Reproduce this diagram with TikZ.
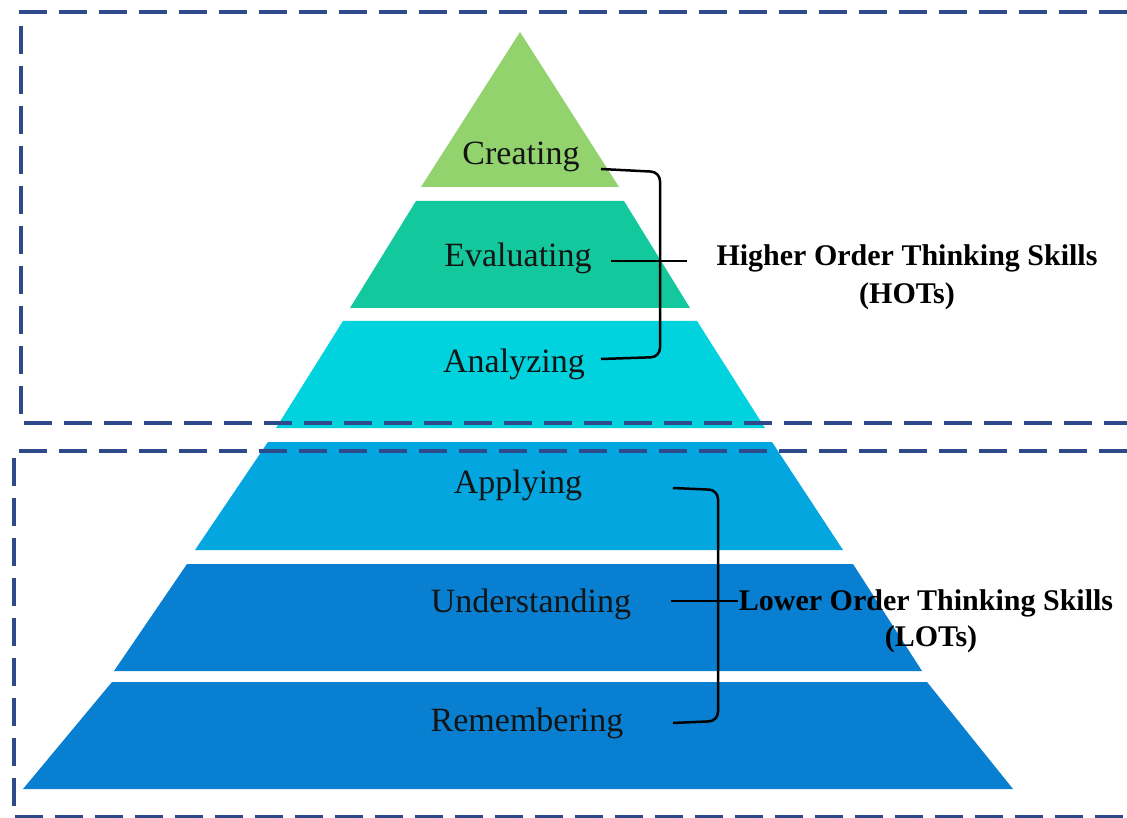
\documentclass[tikz,border=0pt]{standalone}
\usepackage{fontspec}
\setmainfont{Liberation Serif}
\definecolor{cCre}{HTML}{92D36E}
\definecolor{cEva}{HTML}{13C89C}
\definecolor{cAna}{HTML}{00D2DE}
\definecolor{cApp}{HTML}{03A6DF}
\definecolor{cUnd}{HTML}{087FD0}
\definecolor{cRem}{HTML}{087FD0}
\definecolor{dashblue}{HTML}{2E4A8B}
\definecolor{lbl}{HTML}{141414}
\begin{document}
\begin{tikzpicture}[x=1pt,y=-1pt,
  lvl/.style={font=\fontsize{34}{36}\selectfont, text=lbl, anchor=base, inner sep=0pt},
  side/.style={font=\fontsize{30}{32}\selectfont\bfseries, text=black, anchor=base, inner sep=0pt},
  boxline/.style={draw=dashblue, line width=3.6pt, dash pattern=on 28pt off 12pt},
  brk/.style={draw=black, line width=2.5pt, rounded corners=9pt}]
\useasboundingbox (0,0) rectangle (1127,818);
\fill[white] (0,0) rectangle (1127,818);
% pyramid bands (centre x = 520)
\fill[cCre] (520,32) -- (619,187) -- (421,187) -- cycle;
\fill[cEva] (416,201) -- (624,201) -- (690,308) -- (350,308) -- cycle;
\fill[cAna] (343,321) -- (697,321) -- (765,428) -- (276,428) -- cycle;
\fill[cApp] (268,442) -- (772,442) -- (843,550) -- (195,550) -- cycle;
\fill[cUnd] (187,564) -- (853,564) -- (922,671) -- (114,671) -- cycle;
\fill[cRem] (112,682) -- (927,682) -- (1013,789) -- (23,789) -- cycle;
% level labels
\node[lvl] (cre) at (521,165) {Creating};
\node[lvl] (eva) at (518,267) {Evaluating};
\node[lvl] (ana) at (514,372) {Analyzing};
\node[lvl] (app) at (518,493) {Applying};
\node[lvl] (und) at (531,612) {Understanding};
\node[lvl] (rem) at (527,731) {Remembering};
% side labels
\node[side] (hot1) at (907,266) {Higher Order Thinking Skills};
\node[side] (hot2) at (907,304) {(HOTs)};
\node[side] (lot1) at (926,610) {Lower Order Thinking Skills};
\node[side] (lot2) at (931,646) {(LOTs)};
% bracket coordinates
\coordinate (h1) at (601,169);
\coordinate (h2) at (660,172);
\coordinate (h3) at (660,357);
\coordinate (h4) at (601,359);
\coordinate (hm1) at (611,261);
\coordinate (hm2) at (687,261);
\coordinate (l1) at (673,488);
\coordinate (l2) at (718,490);
\coordinate (l3) at (718,721);
\coordinate (l4) at (673,723);
\coordinate (lm1) at (671,601);
\coordinate (lm2) at (738,601);
% brackets
\draw[brk] (h1) -- (h2) -- (h3) -- (h4);
\draw[brk] (hm1) -- (hm2);
\draw[brk] (l1) -- (l2) -- (l3) -- (l4);
\draw[brk] (lm1) -- (lm2);
% dashed boxes
\coordinate (ta) at (1127,12);
\coordinate (tb) at (21,12);
\coordinate (tc) at (21,423);
\coordinate (td) at (1127,423);
\draw[boxline] (ta) -- (tb) -- (tc) -- (td);
\coordinate (ba) at (1127,451);
\coordinate (bb) at (14,451);
\coordinate (bc) at (14,817);
\coordinate (bd) at (1127,817);
\draw[boxline] (ba) -- (bb) -- (bc) -- (bd);
\end{tikzpicture}
\end{document}
